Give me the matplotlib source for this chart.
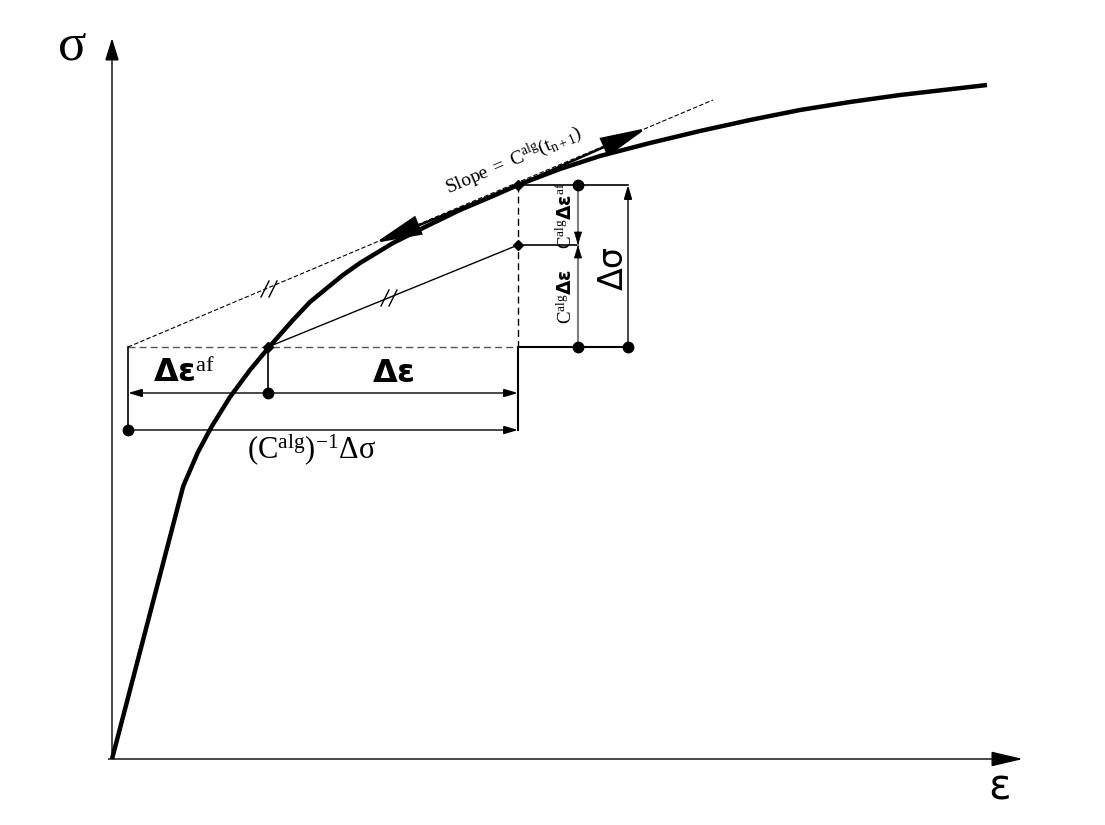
import numpy as np
import matplotlib
matplotlib.use("Agg")
import matplotlib.pyplot as plt
from matplotlib.patches import FancyArrowPatch

plt.rcParams['mathtext.fontset'] = 'custom'
plt.rcParams['mathtext.rm'] = 'Liberation Serif'
plt.rcParams['mathtext.it'] = 'Liberation Serif:italic'
plt.rcParams['mathtext.bf'] = 'DejaVu Sans:bold'
plt.rcParams['mathtext.sf'] = 'DejaVu Sans'

# everything is in picture pixel units (x right, y down)
origin = (112, 759)
y_axis_tip = (112, 38)
x_axis_tip = (1023, 759)

# stress-strain curve
curve_x = [112, 183, 185, 198, 212, 230, 250, 270, 293, 310, 327, 343, 360, 393, 427, 460,
           493, 518, 560, 600, 650, 700, 750, 800, 850, 900, 987]
curve_y = [759, 487, 482, 452, 426, 397, 370, 346, 320, 302, 288, 275, 263, 243, 226, 210,
           196, 185, 169, 156, 143, 131, 120, 110, 102, 95, 85]

# tangent (slope C_alg) line
tangent_start = (128, 347)
tangent_end = (713, 100)
tangent_point = (518, 185)
tangent_left_tip = (375, 243)
tangent_right_tip = (647, 128)

# secant from the curve point to the predicted point
secant_start = (268, 347)
secant_end = (518, 245)
tick_marks = [(269, 289), (389, 298)]

# dimension levels
x_left, x_mid, x_right = 128, 268, 518
x_gray, x_dsig = 578, 628
y_top, y_mid, y_base = 185, 245, 347
y_dim1, y_dim2 = 393, 430

dots_x = [578, 578, 628, 268, 128]
dots_y = [185, 347, 347, 393, 430]
diam_x = [268, 518, 518]
diam_y = [347, 185, 245]

fig = plt.figure(figsize=(11.05, 8.25), dpi=100)
ax = fig.add_axes([0, 0, 1, 1])
ax.set_xlim(0, 1105)
ax.set_ylim(825, 0)
ax.axis('off')


def arrow(a, b, hl, hw, lw=1.0, ec='k', fc='k', z=3):
    p = FancyArrowPatch(a, b, arrowstyle='-|>,head_length=%g,head_width=%g' % (hl, hw),
                        mutation_scale=1, lw=lw, ec=ec, fc=fc, shrinkA=0, shrinkB=0,
                        joinstyle='miter', capstyle='butt', zorder=z)
    ax.add_patch(p)


# axes
arrow(origin, y_axis_tip, 14, 4.3, lw=1.0)
arrow((108, origin[1]), x_axis_tip, 20, 4.7, lw=1.0)
ax.text(72, 46, 'σ', fontsize=38, family='Liberation Serif', ha='center', va='center')
ax.text(1000, 788, 'ε', fontsize=30, family='DejaVu Sans', ha='center', va='center')

# curve
ax.plot(curve_x, curve_y, color='k', lw=3.2, solid_capstyle='butt', solid_joinstyle='round', zorder=4)

# tangent dashed line + arrows
ax.plot([tangent_start[0], tangent_end[0]], [tangent_start[1], tangent_end[1]],
        color='k', lw=0.8, ls=(0, (4, 2)), zorder=2)
arrow(tangent_point, tangent_left_tip, 29, 6.2, lw=1.8, z=5)
arrow(tangent_point, tangent_right_tip, 29, 6.2, lw=1.8, z=5)

# secant
ax.plot([secant_start[0], secant_end[0]], [secant_start[1], secant_end[1]], color='k', lw=1.0)
for cx, cy in tick_marks:
    for off in (-4, 4):
        ax.plot([cx + off - 4, cx + off + 4], [cy + 8, cy - 8], color='k', lw=1.0)

# dashed construction lines
ax.plot([x_left, x_right], [y_base, y_base], color='#555555', lw=1.0, ls=(0, (5, 3)))
ax.plot([x_right, x_right], [y_top, y_base], color='k', lw=1.0, ls=(0, (5, 3)))

# solid extension lines
ax.plot([x_right, x_dsig], [y_top, y_top], color='k', lw=1.2)
ax.plot([x_right, x_gray], [y_mid, y_mid], color='k', lw=1.2)
ax.plot([x_right, x_dsig], [y_base, y_base], color='k', lw=1.5)
ax.plot([x_left, x_left], [y_base, y_dim2], color='k', lw=1.2)
ax.plot([x_mid, x_mid], [y_base, y_dim1], color='k', lw=1.2)
ax.plot([x_right, x_right], [y_base, y_dim2], color='k', lw=1.5)

# vertical dimension arrows (gray shaft, black heads)
ax.plot([x_gray, x_gray], [y_top, y_base], color='#7f7f7f', lw=1.5, zorder=2)
arrow((x_gray, y_mid - 14), (x_gray, y_mid), 8.5, 2.6, lw=0.5)
arrow((x_gray, y_mid + 14), (x_gray, y_mid), 8.5, 2.6, lw=0.5)
arrow((x_dsig, y_base), (x_dsig, y_top), 8.5, 2.5, lw=1.0)

# horizontal dimension arrows
arrow((x_mid, y_dim1), (x_left, y_dim1), 8.5, 2.5, lw=1.0)
arrow((x_mid, y_dim1), (x_right, y_dim1), 8.5, 2.5, lw=1.0)
arrow((x_left, y_dim2), (x_right, y_dim2), 8.5, 2.5, lw=1.0)

ax.plot(dots_x, dots_y, 'o', color='k', ms=7.5, zorder=6)
ax.plot(diam_x, diam_y, 'D', color='k', ms=5.5, zorder=6)

# labels
ax.text(514, 160, r'$\mathrm{Slope\ =\ C}^{\mathrm{alg}}\mathrm{(t}_{\mathrm{n+1}}\mathrm{)}$',
        fontsize=14, rotation=23, rotation_mode='anchor', ha='center', va='center')
ax.text(184, 374, r'$\mathbf{Δε}^{\mathrm{af}}$', fontsize=23, ha='center', va='center')
ax.text(393, 374, r'$\mathbf{Δε}$', fontsize=23, ha='center', va='center')
ax.text(312, 450, r'$\mathrm{(C}^{\mathrm{alg}}\mathrm{)}^{\mathrm{-1}}\mathrm{Δσ}$',
        fontsize=22, ha='center', va='center')
ax.text(566, 216, r'$\mathrm{C}^{\mathrm{alg}}\mathbf{Δε}^{\mathrm{af}}$', fontsize=13.5,
        rotation=90, ha='center', va='center')
ax.text(566, 297, r'$\mathrm{C}^{\mathrm{alg}}\mathbf{Δε}$', fontsize=13.5,
        rotation=90, ha='center', va='center')
ax.text(613, 268, 'Δσ', fontsize=24, family='DejaVu Sans', rotation=90, ha='center', va='center')

fig.savefig('out.png', dpi=100)
